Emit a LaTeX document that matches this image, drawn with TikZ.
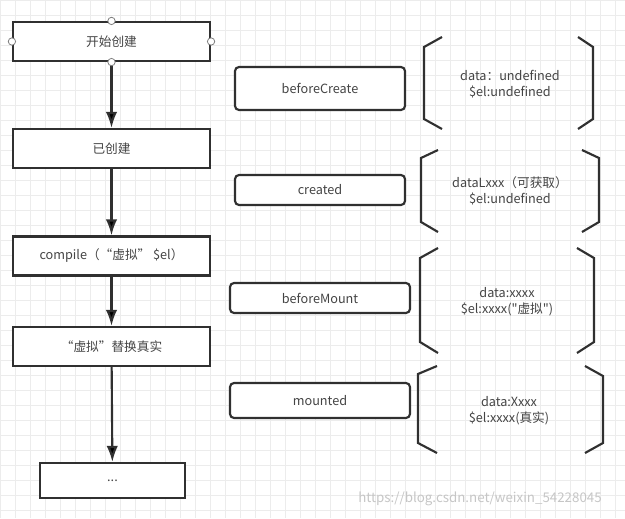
\documentclass[tikz,border=0pt]{standalone}
\usepackage{fontspec}
\setmainfont{Noto Sans CJK SC}[Ligatures=TeXOff]
\usetikzlibrary{arrows.meta}
\definecolor{lineclr}{HTML}{303030}
\definecolor{txtclr}{HTML}{444444}
\definecolor{gridclr}{HTML}{ECECEC}

\begin{document}
\begin{tikzpicture}[x=0.75pt,y=-0.75pt,
	every node/.style={font=\fontsize{9.5}{12}\selectfont,text=txtclr},
	stage/.style={draw=lineclr,line width=1.6pt,fill=white,minimum width=147.75pt,minimum height=29.25pt,inner sep=0pt},
	hook/.style={draw=lineclr,line width=1.6pt,fill=white,rounded corners=3pt,minimum width=127.5pt,inner sep=0pt},
	port/.style={circle,draw=gray,fill=white,line width=0.6pt,minimum size=5.5pt,inner sep=0pt},
	flow/.style={draw=lineclr,line width=1.6pt,-{Latex[length=12pt,width=8.5pt]}},
	brk/.style={draw=lineclr,line width=1.6pt}]
	\useasboundingbox (0,0) rectangle (625,518);
	\fill[white] (0,0) rectangle (625,518);
	\foreach \gx in {0,15,...,615} \draw[gridclr,line width=0.5pt] (\gx,0)--(\gx,518);
	\foreach \gy in {0,15,...,510} \draw[gridclr,line width=0.5pt] (0,\gy)--(625,\gy);
	
	% main flow
	\node[stage] at (111.5,41.5)(start){开始创建};
	\node[stage] at (111.5,148.5)(made){已创建};
	\node[stage] at (111.5,256)(compile){compile（“虚拟” \$el）};
	\node[stage] at (111.5,346.5)(swap){“虚拟”替换真实};
	\node[stage,minimum width=108.75pt,minimum height=26.25pt] at (112.5,480.5)(more){...};
	\path[flow](start)edge(made)(made)edge(compile)(compile)edge(swap)(swap)edge(more);
	\node[port] at (start.north)(startN){};
	\node[port] at (start.south)(startS){};
	\node[port] at (start.west)(startW){};
	\node[port] at (start.east)(startE){};
	
	% hooks
	\node[hook,minimum height=32.25pt] at (320,88.5)(beforeCreate){beforeCreate};
	\node[hook,minimum height=22.5pt] at (320,190)(created){created};
	\node[hook,minimum width=135pt,minimum height=22.5pt] at (320,298)(beforeMount){beforeMount};
	\node[hook,minimum width=135pt,minimum height=26.25pt] at (320,400.5)(mounted){mounted};
	
	% state brackets
	\draw[brk](442,37)--(424,47)--(424,119)--(442,129);
	\draw[brk](578,37)--(593,47)--(593,119)--(578,129);
	\node[align=center] at (510,84)(stateA){data：undefined\\\$el:undefined};
	
	\draw[brk](438,150)--(421,158)--(421,222)--(438,232);
	\draw[brk](582,150)--(599,158)--(599,222)--(582,232);
	\node[align=center] at (510,191)(stateB){dataLxxx（可获取）\\\$el:undefined};
	
	\draw[brk](438,248)--(420,258)--(420,342)--(438,353);
	\draw[brk](577,248)--(594,258)--(594,342)--(577,353);
	\node[align=center] at (507,302)(stateC){data:xxxx\\\$el:xxxx("虚拟")};
	
	\draw[brk](437,366)--(418,374)--(418,443)--(437,453);
	\draw[brk](585,366)--(603,376)--(603,443)--(585,453);
	\node[align=center] at (509,411)(stateD){data:Xxxx\\\$el:xxxx(真实)};
	
	\node[text=gray!45,font=\fontsize{10}{12}\selectfont] at (480,499)(mark){https://blog.csdn.net/weixin\_54228045};
\end{tikzpicture}
\end{document}
